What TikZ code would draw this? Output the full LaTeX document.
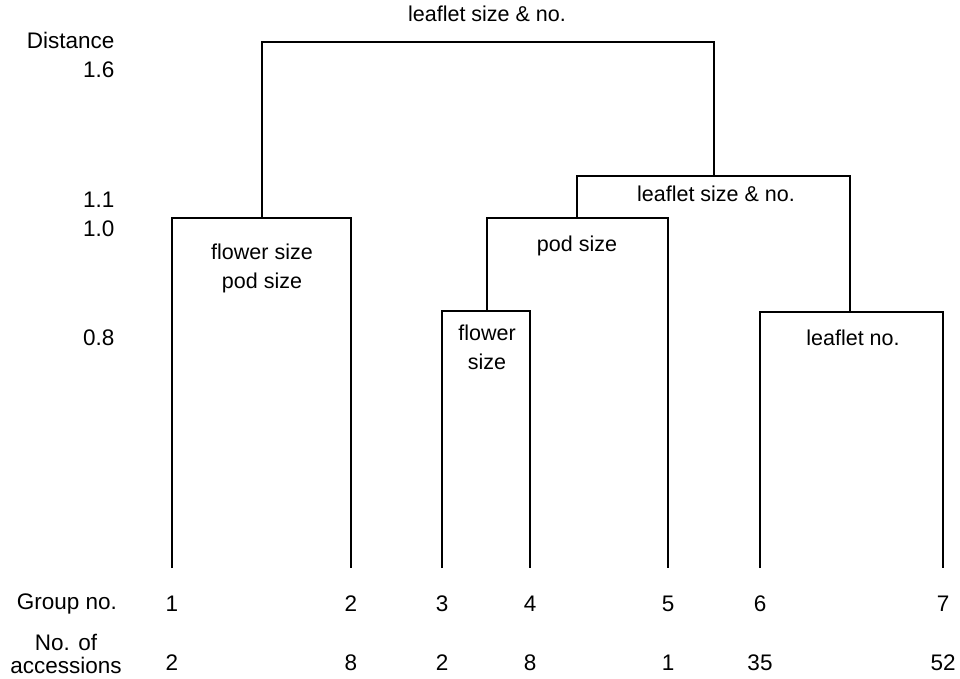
\documentclass[tikz,border=0pt]{standalone}
\usepackage{fontspec}
\setmainfont{Liberation Sans}
\usetikzlibrary{positioning}
\tikzset{
  every picture/.style={line width=1.1pt},
  lbl/.style={font=\fontsize{22.5}{24}\selectfont, inner sep=0pt},
  axis/.style={lbl, anchor=east, align=right},
  trait/.style={inner sep=0pt, align=center, font=\fontsize{21.5}{29}\selectfont},
}
\begin{document}
\begin{tikzpicture}[x=1pt, y=-1pt]
  \useasboundingbox (0,0) rectangle (960,678);
  % leaves, group numbers and accessions
  \foreach \i/\x/\n in {1/172/2, 2/351/8, 3/442/2, 4/530/8,
                        5/668/1, 6/760/35, 7/943/52} {
    \coordinate (g\i) at (\x,568);
    \node[lbl] (grp\i) at (\x,604) {\i};
    \node[lbl] (acc\i) at (\x,663) {\n};
  }
  % merge points
  \coordinate (m12) at (262,218);
  \coordinate (m34) at (487,311);
  \coordinate (m345) at (577,218);
  \coordinate (m67) at (850,312);
  \coordinate (m3to7) at (714,176);
  \coordinate (root) at (488,42);
  % dendrogram
  \draw (g1) |- (m12) -| (g2);
  \draw (g3) |- (m34) -| (g4);
  \draw (m34) |- (m345) -| (g5);
  \draw (g6) |- (m67) -| (g7);
  \draw (m345) |- (m3to7) -| (m67);
  \draw (m12) |- (root) -| (m3to7);
  % traits at the splits
  \node[trait] (troot) at (487,14) {leaflet size \& no.};
  \node[trait] (t3to7) at (716,194) {leaflet size \& no.};
  \node[trait] (t12) at (262,268) {flower size\\pod size};
  \node[trait] (t345) at (577,246) {pod size};
  \node[trait] (t34) at (487,347) {flower\\size};
  \node[trait] (t67) at (853,338) {leaflet no.};
  % distance scale and row titles
  \node[axis] (dist) at (115,40) {Distance};
  \node[axis] (d16) at (115,70) {1.6};
  \node[axis] (d11) at (115,200) {1.1};
  \node[axis] (d10) at (115,229) {1.0};
  \node[axis] (d08) at (115,338) {0.8};
  \node[lbl] (grp) at (67,604) {Group no.};
  \node[lbl, align=center, font=\fontsize{22.5}{22.5}\selectfont] (acc) at (66,654) {No. of\\accessions};
\end{tikzpicture}
\end{document}
